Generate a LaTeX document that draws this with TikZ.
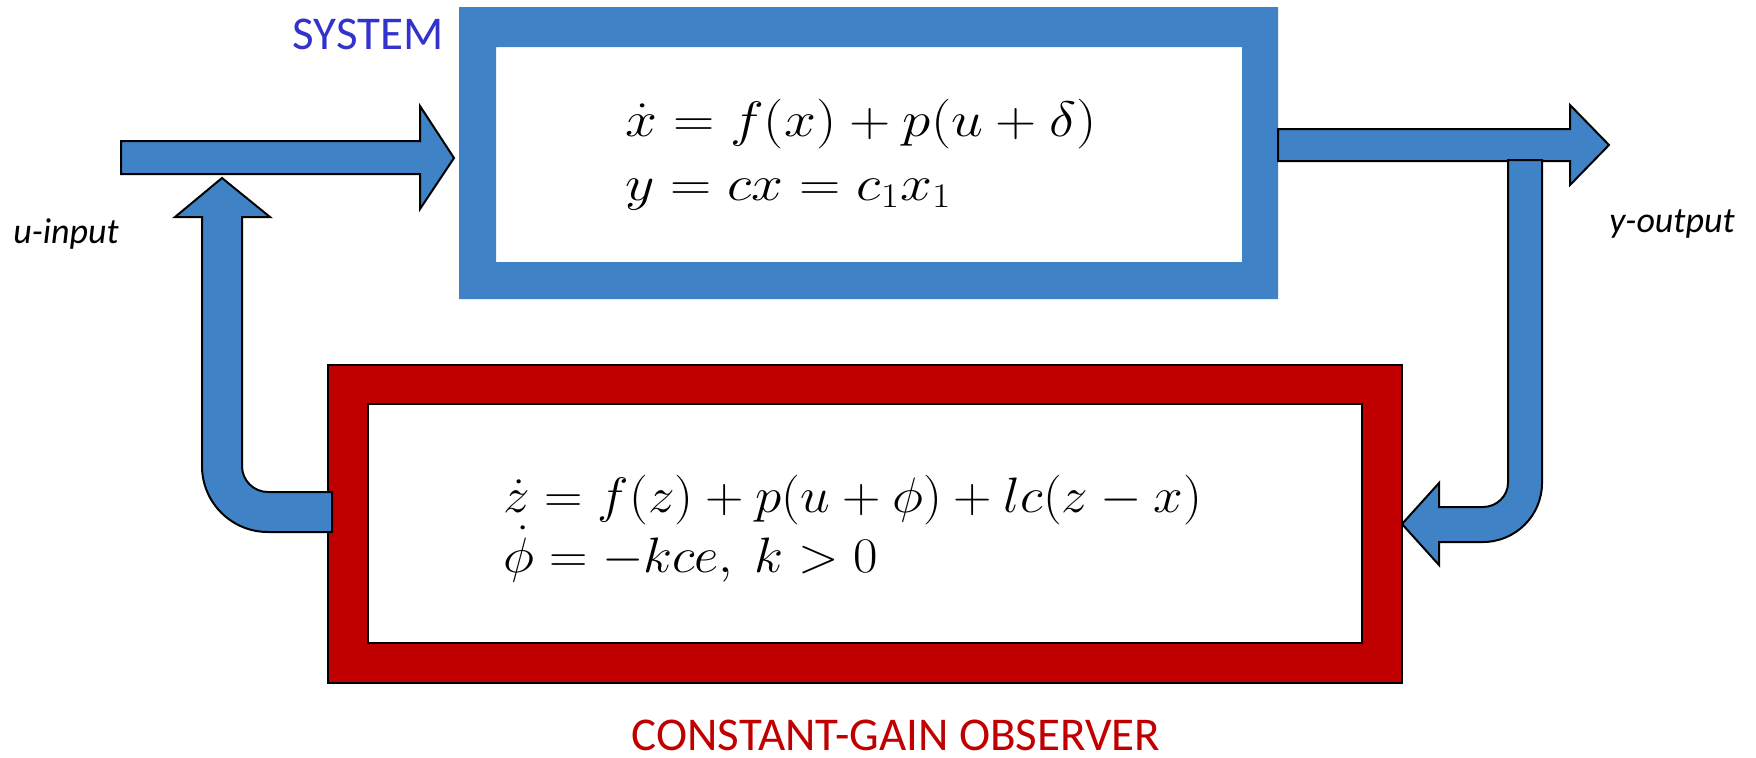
\documentclass[tikz,border=0pt]{standalone}
\usepackage{fontspec}
\setmainfont{Carlito}
\definecolor{sysblue}{RGB}{63,131,198}
\definecolor{obsred}{RGB}{192,0,0}
\definecolor{titleblue}{RGB}{51,51,204}
\begin{document}
\begin{tikzpicture}[x=0.5pt,y=-0.5pt,
  blockarrow/.style={fill=sysblue,draw=black,line width=1pt,line join=miter},
  lbl/.style={inner sep=0pt,font=\fontsize{18}{22}\selectfont\itshape},
  title/.style={inner sep=0pt,font=\fontsize{23.5}{28}\selectfont},
  syseq/.style={inner sep=0pt,anchor=base west,font=\fontsize{27}{32}\selectfont},
  obseq/.style={inner sep=0pt,anchor=base west,font=\fontsize{25}{30}\selectfont}]
\useasboundingbox (0,0) rectangle (1756,757);
% system box
\fill[sysblue,even odd rule] (459,7) rectangle (1278,299) (496,47) rectangle (1242,262);
\coordinate (sysW) at (459,158);
\coordinate (sysE) at (1278,145);
% observer box
\filldraw[fill=obsred,draw=black,line width=1pt,even odd rule] (328,365) rectangle (1402,683) (368,404) rectangle (1362,643);
\coordinate (obsW) at (328,512);
\coordinate (obsE) at (1402,524);
% input arrow
\draw[blockarrow] (121,141) -- (420,141) -- (420,106) -- (sysW -| 454,0) -- (420,209) -- (420,174) -- (121,174) -- cycle;
% output arrow
\draw[blockarrow] (sysE |- 0,129) -- (1570,129) -- (1570,105) -- (1609,145) -- (1570,185) -- (1570,161) -- (sysE |- 0,161) -- cycle;
% output to observer
\draw[blockarrow] (1508,160) -- (1542,160) -- (1542,483)
  .. controls (1542,515.6) and (1515.4,542) .. (1483,542)
  -- (1439,542) -- (1439,565) -- (obsE) -- (1439,483) -- (1439,507) -- (1483,507)
  .. controls (1496.8,507) and (1508,495.8) .. (1508,483) -- cycle;
% observer to input (feedback)
\draw[blockarrow] (222,178) -- (270,217) -- (242,217) -- (242,466)
  .. controls (242,480.4) and (253.6,492) .. (268,492) -- (332,492) -- (332,532) -- (268,532)
  .. controls (231.5,532) and (202,502.5) .. (202,466) -- (202,217) -- (175,217) -- cycle;
% texts
\node[title,text=titleblue] (systitle) at (368,34) {SYSTEM};
\node[title,text=obsred] (obstitle) at (896,735) {CONSTANT-GAIN OBSERVER};
\node[lbl,anchor=base] (ulabel) at (66,243) {u-input};
\node[lbl,anchor=base] (ylabel) at (1672,232) {y-output};
\node[syseq] (sysA) at (625,136) {\scalebox{1.15}[1]{$\dot{x} = f(x) + p(u+\delta)$}};
\node[syseq] (sysB) at (625,200) {\scalebox{1.15}[1]{$y = cx = c_1x_1$}};
\node[obseq] (obsA) at (503,512) {\scalebox{1.07}[1]{$\dot{z} = f(z) + p(u+\phi) + lc(z-x)$}};
\node[obseq] (obsB) at (503,572) {\scalebox{1.07}[1]{$\dot{\phi} = -kce,\ k > 0$}};
\end{tikzpicture}
\end{document}
